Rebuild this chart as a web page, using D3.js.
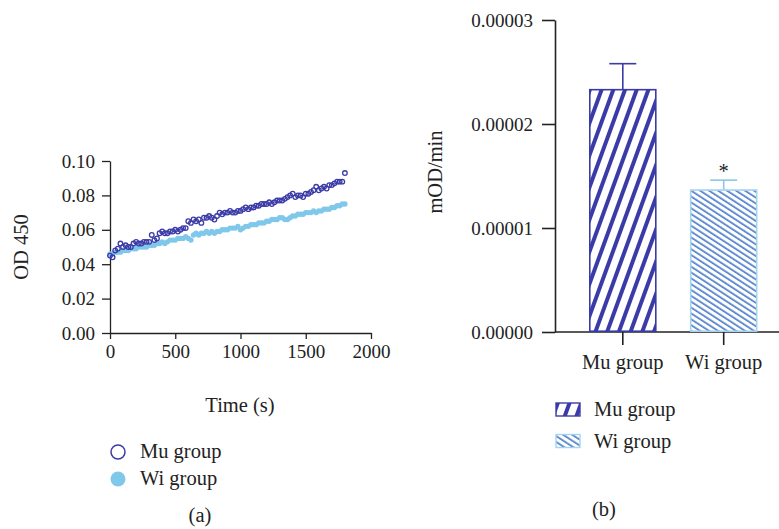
<!DOCTYPE html>
<html>
<head>
<meta charset="utf-8">
<script src="https://cdn.jsdelivr.net/npm/d3@7"></script>
<style>
  body { margin: 0; background: #fff; }
  svg { display: block; }
  text { font-family: "Liberation Serif", "DejaVu Serif", serif; fill: #222; }
</style>
</head>
<body>
<div id="chart"></div>
<script>
const width = 779;
const height = 529;

// (a) time course, one reading every 20 s
const times = d3.range(0, 1801, 20);
const muOD = [
  0.045, 0.044, 0.048, 0.049, 0.052, 0.050, 0.051, 0.050, 0.050, 0.052,
  0.053, 0.052, 0.052, 0.053, 0.053, 0.053, 0.057, 0.054, 0.055, 0.058,
  0.059, 0.058, 0.058, 0.059, 0.059, 0.060, 0.059, 0.060, 0.061, 0.061,
  0.065, 0.064, 0.066, 0.065, 0.066, 0.064, 0.067, 0.067, 0.068, 0.067,
  0.066, 0.068, 0.070, 0.069, 0.070, 0.070, 0.071, 0.070, 0.070, 0.071,
  0.071, 0.072, 0.073, 0.072, 0.073, 0.073, 0.074, 0.074, 0.075, 0.075,
  0.075, 0.076, 0.075, 0.076, 0.077, 0.077, 0.077, 0.078, 0.079, 0.080,
  0.081, 0.079, 0.080, 0.080, 0.079, 0.081, 0.081, 0.082, 0.083, 0.085,
  0.083, 0.084, 0.085, 0.084, 0.086, 0.086, 0.087, 0.088, 0.088, 0.088,
  0.093
];
const wiOD = [
  0.046, 0.046, 0.047, 0.047, 0.047, 0.048, 0.048, 0.048, 0.049, 0.049,
  0.049, 0.050, 0.050, 0.050, 0.050, 0.051, 0.051, 0.051, 0.052, 0.052,
  0.053, 0.052, 0.053, 0.054, 0.054, 0.054, 0.055, 0.055, 0.055, 0.056,
  0.055, 0.054, 0.057, 0.058, 0.057, 0.058, 0.058, 0.059, 0.058, 0.059,
  0.058, 0.059, 0.059, 0.060, 0.060, 0.060, 0.061, 0.061, 0.061, 0.062,
  0.060, 0.061, 0.062, 0.062, 0.063, 0.063, 0.063, 0.064, 0.064, 0.064,
  0.065, 0.065, 0.066, 0.066, 0.066, 0.067, 0.067, 0.066, 0.066, 0.067,
  0.068, 0.068, 0.069, 0.069, 0.069, 0.070, 0.070, 0.070, 0.071, 0.070,
  0.071, 0.071, 0.072, 0.072, 0.072, 0.073, 0.073, 0.074, 0.074, 0.075,
  0.075
];
const odTicks = [0, 0.02, 0.04, 0.06, 0.08, 0.10];
const timeTicks = [0, 500, 1000, 1500, 2000];

// (b) rate bars
const groups = ["Mu group", "Wi group"];
const rates = [0.0000233, 0.00001365];
const rateErr = [0.0000025, 0.00000095];
const rateTicks = [0, 0.00001, 0.00002, 0.00003];

const muColor = "#3b3ba8";
const wiColor = "#80c8ea";
const wiStripe = "#4f7fcc";
const wiBorder = "#a6d3f0";

const tickFont = 19;
const labelFont = 20.5;

const svg = d3.select("#chart").append("svg")
  .attr("width", width)
  .attr("height", height);

// hatch patterns
const defs = svg.append("defs");
const muPat = defs.append("pattern")
  .attr("id", "muHatch")
  .attr("patternUnits", "userSpaceOnUse")
  .attr("width", 11).attr("height", 11)
  .attr("patternTransform", "rotate(20)");
muPat.append("rect").attr("width", 11).attr("height", 11).attr("fill", "#fff");
muPat.append("rect").attr("x", 0).attr("width", 4).attr("height", 11).attr("fill", muColor);

const wiPat = defs.append("pattern")
  .attr("id", "wiHatch")
  .attr("patternUnits", "userSpaceOnUse")
  .attr("width", 4.9).attr("height", 6)
  .attr("patternTransform", "rotate(-57)");
wiPat.append("rect").attr("width", 4.9).attr("height", 6).attr("fill", "#fff");
wiPat.append("rect").attr("x", 0).attr("width", 1.7).attr("height", 6).attr("fill", wiStripe);

// ---------- panel (a) ----------
const x = d3.scaleLinear().domain([0, 2000]).range([110, 371]);
const y = d3.scaleLinear().domain([0, 0.10]).range([333, 161]);

const gA = svg.append("g");

gA.append("g")
  .attr("transform", "translate(0,333)")
  .call(d3.axisBottom(x).tickValues(timeTicks).tickFormat(d3.format("d")).tickSize(6).tickPadding(6).tickSizeOuter(0))
  .call(g => g.selectAll("text").attr("font-size", tickFont));

gA.append("g")
  .attr("transform", "translate(110,0)")
  .call(d3.axisLeft(y).tickValues(odTicks).tickFormat(d3.format(".2f")).tickSize(8).tickPadding(7).tickSizeOuter(0))
  .call(g => g.selectAll("text").attr("font-size", tickFont));

gA.selectAll(".domain, .tick line").attr("stroke", "#222").attr("stroke-width", 1.3);
gA.selectAll("text").attr("font-family", "Liberation Serif, serif").attr("fill", "#222");

// Wi filled dots
gA.append("g")
  .selectAll("circle")
  .data(times)
  .enter().append("circle")
  .attr("cx", d => x(d))
  .attr("cy", (d, i) => y(wiOD[i]))
  .attr("r", 2.7)
  .attr("fill", wiColor);

// Mu open circles
gA.append("g")
  .selectAll("circle")
  .data(times)
  .enter().append("circle")
  .attr("cx", d => x(d))
  .attr("cy", (d, i) => y(muOD[i]))
  .attr("r", 2.3)
  .attr("fill", "none")
  .attr("stroke", muColor)
  .attr("stroke-width", 1.3);

gA.append("text")
  .attr("x", 240).attr("y", 412)
  .attr("text-anchor", "middle")
  .attr("font-size", labelFont)
  .text("Time (s)");

gA.append("text")
  .attr("transform", "translate(28,247) rotate(-90)")
  .attr("text-anchor", "middle")
  .attr("font-size", labelFont)
  .text("OD 450");

// legend (a)
gA.append("circle").attr("cx", 118).attr("cy", 452).attr("r", 7)
  .attr("fill", "#fff").attr("stroke", muColor).attr("stroke-width", 1.5);
gA.append("circle").attr("cx", 118).attr("cy", 479).attr("r", 7.5)
  .attr("fill", wiColor);
gA.append("text").attr("x", 140).attr("y", 458).attr("font-size", labelFont).text("Mu group");
gA.append("text").attr("x", 140).attr("y", 485).attr("font-size", labelFont).text("Wi group");
gA.append("text").attr("x", 200).attr("y", 522).attr("text-anchor", "middle").attr("font-size", labelFont).text("(a)");

// ---------- panel (b) ----------
const xb = d3.scaleBand().domain(groups).range([589, 757.5]).paddingInner(0.33);
const yb = d3.scaleLinear().domain([0, 0.00003]).range([332, 20]);

const gB = svg.append("g");

gB.append("g")
  .attr("transform", "translate(555,0)")
  .call(d3.axisLeft(yb).tickValues(rateTicks).tickFormat(d3.format(".5f")).tickSize(13).tickPadding(9).tickSizeOuter(0))
  .call(g => g.selectAll("text").attr("font-size", tickFont));

gB.append("g")
  .attr("transform", "translate(0,332)")
  .call(d3.axisBottom(xb).tickSize(13).tickPadding(9).tickSizeOuter(0))
  .call(g => g.select(".domain").remove())
  .call(g => g.selectAll("text").attr("font-size", labelFont));

gB.append("line")
  .attr("x1", 555).attr("x2", 779)
  .attr("y1", 332).attr("y2", 332)
  .attr("stroke", "#222").attr("stroke-width", 1.6);

gB.selectAll(".domain, .tick line").attr("stroke", "#222").attr("stroke-width", 1.6);
gB.selectAll("text").attr("font-family", "Liberation Serif, serif").attr("fill", "#222");

const fills = ["url(#muHatch)", "url(#wiHatch)"];
const borders = [muColor, wiBorder];
const errColors = [muColor, "#8cc6ea"];

// error bars behind bars
gB.append("g")
  .selectAll("g")
  .data(groups)
  .enter().append("g")
  .each(function(d, i) {
    const cx = xb(d) + xb.bandwidth() / 2;
    const g = d3.select(this);
    g.append("line")
      .attr("x1", cx).attr("x2", cx)
      .attr("y1", yb(rates[i])).attr("y2", yb(rates[i] + rateErr[i]))
      .attr("stroke", errColors[i]).attr("stroke-width", 1.6);
    g.append("line")
      .attr("x1", cx - 13.5).attr("x2", cx + 13.5)
      .attr("y1", yb(rates[i] + rateErr[i])).attr("y2", yb(rates[i] + rateErr[i]))
      .attr("stroke", errColors[i]).attr("stroke-width", 1.6);
  });

gB.append("g")
  .selectAll("rect")
  .data(groups)
  .enter().append("rect")
  .attr("x", d => xb(d) + 0.8)
  .attr("y", (d, i) => yb(rates[i]))
  .attr("width", xb.bandwidth() - 1.6)
  .attr("height", (d, i) => yb(0) - yb(rates[i]) - 0.8)
  .attr("fill", (d, i) => fills[i])
  .attr("stroke", (d, i) => borders[i])
  .attr("stroke-width", 1.6);

gB.append("text")
  .attr("x", xb("Wi group") + xb.bandwidth() / 2)
  .attr("y", yb(rates[1] + rateErr[1]) - 2)
  .attr("text-anchor", "middle")
  .attr("font-size", labelFont)
  .text("*");

gB.append("text")
  .attr("transform", "translate(442,172) rotate(-90)")
  .attr("text-anchor", "middle")
  .attr("font-size", labelFont)
  .text("mOD/min");

// legend (b)
groups.forEach((gname, i) => {
  const ly = 403 + i * 31.5;
  gB.append("rect")
    .attr("x", 556).attr("y", ly)
    .attr("width", 24).attr("height", 13)
    .attr("fill", fills[i])
    .attr("stroke", borders[i])
    .attr("stroke-width", 1.4);
  gB.append("text")
    .attr("x", 594).attr("y", ly + 13)
    .attr("font-size", labelFont)
    .text(gname);
});
gB.append("text").attr("x", 604).attr("y", 516).attr("text-anchor", "middle").attr("font-size", labelFont).text("(b)");
</script>
</body>
</html>
